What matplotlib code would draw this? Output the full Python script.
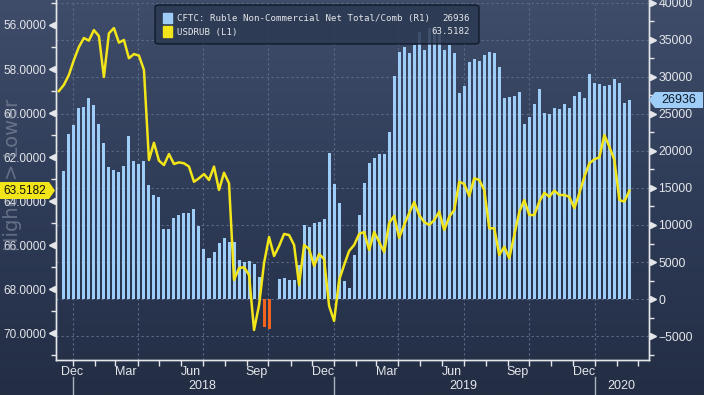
import matplotlib
matplotlib.use("Agg")
import matplotlib.pyplot as plt
import matplotlib.dates as mdates
import numpy as np
import pandas as pd
from matplotlib.patches import FancyBboxPatch, Polygon, Rectangle
from matplotlib.transforms import blended_transform_factory
from matplotlib.colors import LinearSegmentedColormap

# weekly CFTC ruble non-commercial net positions (contracts)
cftc_net = [
    17290, 22290, 23510, 25850, 25940, 27160, 26210, 23640, 21080, 17830,
    17430, 17160, 17970, 22020, 18640, 18240, 18640, 15400, 14050, 13780,
    9460, 9460, 10940, 11350, 11620, 11620, 12160, 9860, 6760, 5540,
    6350, 7570, 8240, 7700, 7740, 5270, 5040, 5170, 4730, 2930,
    -3740, -4090, 0, 2700, 2880, 2610, 2570, 4590, 10000, 9690,
    10230, 10400, 10850, 19680, 15540, 12970, 2470, 1450, 5940, 11350,
    15670, 18370, 19050, 19590, 19590, 22560, 30130, 33370, 34050, 33230,
    34320, 36070, 33640, 36610, 36340, 35940, 33640, 34320, 33280, 27830,
    28780, 32020, 32420, 32150, 32960, 33370, 33230, 31340, 27160, 27290,
    27430, 27970, 23640, 24590, 26340, 28370, 25130, 24990, 25800, 25670,
    26340, 25800, 27430, 27970, 27160, 30400, 29180, 29050, 28780, 28910,
    29720, 29180, 26480, 26936,
]

# weekly USDRUB
usdrub = [
    59.00, 58.72, 58.27, 57.59, 57.00, 56.59, 56.71, 56.23, 56.50, 58.36,
    56.38, 56.14, 56.80, 56.68, 57.51, 57.32, 57.39, 58.04, 62.13, 61.35,
    62.16, 62.36, 61.86, 62.31, 62.24, 62.28, 62.43, 63.12, 62.96, 62.77,
    63.04, 62.43, 63.49, 62.71, 63.19, 67.58, 67.04, 67.00, 67.35, 69.85,
    68.72, 66.81, 65.63, 66.49, 66.04, 65.49, 65.54, 65.99, 67.81, 65.99,
    66.17, 66.94, 66.40, 66.63, 68.76, 69.44, 67.58, 66.90, 66.26, 65.99,
    65.49, 65.40, 66.22, 65.40, 65.85, 66.31, 64.99, 64.67, 65.67, 65.08,
    64.54, 64.04, 64.63, 64.95, 65.08, 64.86, 64.48, 65.31, 64.71, 64.40,
    63.12, 63.22, 63.77, 62.96, 63.04, 63.49, 65.23, 65.23, 66.45, 66.07,
    66.59, 65.54, 64.49, 63.95, 64.63, 64.63, 64.02, 63.62, 63.80, 63.52,
    63.72, 63.72, 63.80, 64.32, 63.64, 62.89, 62.28, 62.10, 62.01, 61.00,
    61.53, 62.13, 63.95, 64.02, 63.5182,
]

bar_dates = pd.date_range("2017-12-19", periods=len(cftc_net), freq="7D")
line_dates = pd.date_range("2017-12-12", periods=len(usdrub), freq="7D")

month_labels = ["Dec", "Mar", "Jun", "Sep", "Dec", "Mar", "Jun", "Sep", "Dec"]
month_label_dates = pd.to_datetime([
    "2017-12-31", "2018-03-16", "2018-06-15", "2018-09-15", "2018-12-16",
    "2019-03-16", "2019-06-15", "2019-09-15", "2019-12-16"])
year_labels = ["2018", "2019", "2020"]
year_label_dates = pd.to_datetime(["2018-07-01", "2019-07-01", "2020-02-07"])
year_starts = pd.to_datetime(["2018-01-01", "2019-01-01", "2020-01-01"])

W, H = 704, 395
BAR = "#9ecdf7"
NEG = "#f0641e"
YEL = "#f2e61a"
TXT = "#e4e6ea"
GRID = "#5c6b88"


def fx(px):
    return px / W


def fy(py):
    return 1 - py / H


fig = plt.figure(figsize=(W / 100, H / 100), dpi=100)

# background gradient over the whole figure
bg = fig.add_axes([0, 0, 1, 1], zorder=-5)
cmap = LinearSegmentedColormap.from_list("bg", ["#3f4d6a", "#2f3c58", "#232e44"])
bg.imshow(np.linspace(0, 1, 256).reshape(-1, 1), aspect="auto", cmap=cmap,
          extent=[0, 1, 0, 1])
bg.axis("off")

ax = fig.add_axes([fx(56), fy(360), (648.7 - 56) / W, 360 / H])
ax.patch.set_alpha(0)
axl = ax.twinx()

# bars on the right scale
colors = [NEG if v < 0 else BAR for v in cftc_net]
ax.bar(bar_dates, cftc_net, width=4.2, color=colors, zorder=3)
ax.set_ylim(-8243, 40405)
ax.set_xlim(pd.Timestamp("2017-12-08"), pd.Timestamp("2020-03-16"))

# grid
for v in range(-5000, 40001, 5000):
    ax.axhline(v, color=GRID, lw=0.8, ls=(0, (2, 2.5)), zorder=1)
for d in pd.date_range("2018-01-01", "2020-01-01", freq="QS"):
    ax.axvline(d, color=GRID, lw=0.8, ls=(0, (2, 2.5)), zorder=1)

# line on the inverted left scale
axl.plot(line_dates, usdrub, color=YEL, lw=1.8, zorder=4)
axl.set_ylim(71.213, 54.865)
axl.yaxis.tick_left()
axl.yaxis.set_label_position("left")
ax.yaxis.tick_right()

# ticks
ax.set_yticks(range(-5000, 40001, 5000))
ax.set_yticks(range(-7500, 40001, 5000), minor=True)
ax.tick_params(axis="y", which="major", length=0, pad=7, colors=TXT, labelsize=8.8)
ax.tick_params(axis="y", which="minor", length=3.5, width=1, color=TXT)
for lab in ax.get_yticklabels():
    lab.set_family("Liberation Sans")

axl.set_yticks(np.arange(56, 71, 2))
axl.set_yticks(np.arange(55, 72, 2), minor=True)
axl.yaxis.set_major_formatter(plt.FuncFormatter(lambda v, p: "%.4f" % v))
axl.tick_params(axis="y", which="major", length=0, pad=7, colors=TXT, labelsize=8.5)
axl.tick_params(axis="y", which="minor", length=3.5, width=1, color=TXT)
for lab in axl.get_yticklabels():
    lab.set_family("Liberation Sans")

# triangular major tick markers
tr_r = blended_transform_factory(ax.transAxes, ax.transData)
ax.plot([1.0075] * 10, range(-5000, 40001, 5000), ls="none", marker=">",
        ms=5, color=TXT, transform=tr_r, clip_on=False, zorder=6)
tr_l = blended_transform_factory(axl.transAxes, axl.transData)
axl.plot([-0.0075] * 8, np.arange(56, 71, 2), ls="none", marker="<",
         ms=5, color=TXT, transform=tr_l, clip_on=False, zorder=6)

# x axis
ax.xaxis.set_minor_locator(mdates.MonthLocator())
ax.tick_params(axis="x", which="minor", length=4, width=1, color=TXT)
ax.set_xticks(month_label_dates)
ax.set_xticklabels(month_labels)
ax.tick_params(axis="x", which="major", length=0, pad=4, colors=TXT, labelsize=9)
for lab in ax.get_xticklabels():
    lab.set_family("Liberation Sans")

tr_x = blended_transform_factory(ax.transData, ax.transAxes)
for d, t in zip(year_label_dates, year_labels):
    ax.text(d, -0.072, t, transform=tr_x, ha="center", va="center",
            color=TXT, fontsize=9, family="Liberation Sans")
for d in year_starts:
    ax.plot([d, d], [-0.047, -0.1], transform=tr_x, color="#aab2c0", lw=1,
            clip_on=False)

for a in (ax, axl):
    a.spines["top"].set_visible(False)
    for s in ("left", "right", "bottom"):
        a.spines[s].set_color(TXT)
        a.spines[s].set_linewidth(1)

# watermark
fig.text(fx(13), fy(175), "Higher > Lower", rotation=90, ha="center",
         va="center", fontsize=14, color="#8a93a5", alpha=0.6)

# legend
leg = FancyBboxPatch((fx(155), fy(44)), fx(479) - fx(155), fy(5) - fy(44),
                     boxstyle="round,pad=0,rounding_size=0.006",
                     transform=fig.transFigure, facecolor="#2c3952",
                     edgecolor="#0c1322", lw=1, alpha=0.85, zorder=10)
fig.add_artist(leg)
fig.add_artist(Rectangle((fx(163), fy(23)), 9 / W, 10 / H, color=BAR,
                         transform=fig.transFigure, zorder=11))
fig.add_artist(Rectangle((fx(163), fy(36.5)), 9 / W, 10 / H, color=YEL,
                         transform=fig.transFigure, zorder=11))
fig.text(fx(177), fy(18.5), "CFTC: Ruble Non-Commercial Net Total/Comb (R1)",
         family="DejaVu Sans Mono", fontsize=6.6, color=TXT, va="center", zorder=12)
fig.text(fx(177), fy(32), "USDRUB (L1)", family="DejaVu Sans Mono",
         fontsize=6.6, color=TXT, va="center", zorder=12)
fig.text(fx(470), fy(18.5), "26936", family="DejaVu Sans Mono", fontsize=6.6,
         color=TXT, va="center", ha="right", zorder=12)
fig.text(fx(470), fy(32), "63.5182", family="DejaVu Sans Mono", fontsize=6.6,
         color=TXT, va="center", ha="right", zorder=12)

# last value tags
yt = 100
fig.add_artist(Polygon([(fx(649), fy(yt)), (fx(655), fy(yt - 8)), (fx(703), fy(yt - 8)),
                        (fx(703), fy(yt + 8)), (fx(655), fy(yt + 8))],
                       closed=True, facecolor=BAR, edgecolor="none",
                       transform=fig.transFigure, zorder=12))
fig.text(fx(679), fy(yt), "26936", ha="center", va="center", fontsize=9,
         color="#101828", family="Liberation Sans", zorder=13)
yt = 190.5
fig.add_artist(Polygon([(fx(0), fy(yt - 8.5)), (fx(49), fy(yt - 8.5)), (fx(55), fy(yt)),
                        (fx(49), fy(yt + 8.5)), (fx(0), fy(yt + 8.5))],
                       closed=True, facecolor=YEL, edgecolor="none",
                       transform=fig.transFigure, zorder=12))
fig.text(fx(25), fy(yt), "63.5182", ha="center", va="center", fontsize=8.5,
         color="#101010", family="Liberation Sans", zorder=13)

fig.savefig("out.png", dpi=100)
